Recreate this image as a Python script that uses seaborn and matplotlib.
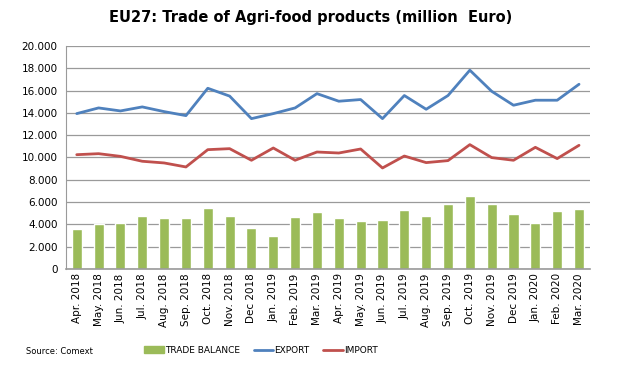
import matplotlib
matplotlib.use("Agg")
import matplotlib.pyplot as plt
import matplotlib.ticker as mticker
import pandas as pd
import seaborn as sns
from matplotlib.lines import Line2D
from matplotlib.patches import Patch

months = [
    "Apr. 2018", "May. 2018", "Jun. 2018", "Jul. 2018", "Aug. 2018", "Sep. 2018",
    "Oct. 2018", "Nov. 2018", "Dec 2018", "Jan. 2019", "Feb. 2019", "Mar. 2019",
    "Apr. 2019", "May. 2019", "Jun. 2019", "Jul. 2019", "Aug. 2019", "Sep. 2019",
    "Oct. 2019", "Nov. 2019", "Dec 2019", "Jan. 2020", "Feb. 2020", "Mar. 2020",
]
export = [13930, 14440, 14170, 14530, 14110, 13750, 16200, 15500, 13480, 13930, 14440, 15720,
          15040, 15190, 13480, 15550, 14320, 15550, 17820, 15930, 14680, 15130, 15130, 16560]
imports = [10250, 10340, 10100, 9660, 9510, 9150, 10700, 10790, 9750, 10850, 9750, 10490,
           10400, 10760, 9060, 10130, 9540, 9720, 11150, 9990, 9750, 10910, 9900, 11090]
trade_balance = [3590, 4010, 4100, 4780, 4600, 4600, 5500, 4780, 3680, 2990, 4690, 5110,
                 4600, 4330, 4420, 5260, 4720, 5800, 6550, 5860, 4900, 4160, 5200, 5350]

GREEN = "#9BBB59"
BLUE = "#4F81BD"
RED = "#C0504D"

df = pd.DataFrame({"month": months, "export": export, "import": imports,
                   "balance": trade_balance})

sns.set_style("white")
plt.rcParams["font.family"] = ["DejaVu Sans"]
plt.rcParams["text.color"] = "black"
plt.rcParams["xtick.color"] = "black"
plt.rcParams["ytick.color"] = "black"

fig = plt.figure(figsize=(6.21, 3.79), dpi=100)
ax = fig.add_axes([0.106, 0.290, 0.844, 0.589])

sns.barplot(data=df, x="month", y="balance", color=GREEN, width=0.46,
            saturation=1, ax=ax, zorder=2)
sns.lineplot(data=df, x="month", y="export", color=BLUE, linewidth=2.0,
             sort=False, ax=ax, zorder=3)
sns.lineplot(data=df, x="month", y="import", color=RED, linewidth=2.0,
             sort=False, ax=ax, zorder=3)

ax.set_ylim(0, 20000)
ax.set_xlim(-0.5, len(months) - 0.5)
ax.yaxis.set_major_locator(mticker.MultipleLocator(2000))
ax.yaxis.set_major_formatter(
    mticker.FuncFormatter(lambda v, _: f"{int(v):,}".replace(",", ".")))
ax.grid(axis="y", color="#9a9a9a", linewidth=0.9, zorder=0)
ax.set_axisbelow(True)

ax.set_xlabel("")
ax.set_ylabel("")
ax.tick_params(axis="x", which="major", length=0, labelsize=7.5, rotation=90, pad=3)
ax.tick_params(axis="y", length=0, labelsize=7.5, pad=6)
ax.xaxis.set_minor_locator(mticker.FixedLocator([i + 0.5 for i in range(-1, len(months))]))
ax.tick_params(axis="x", which="minor", length=3, color="#888888", direction="out")

for side in ["top", "right"]:
    ax.spines[side].set_visible(False)
ax.spines["left"].set_color("#9a9a9a")
ax.spines["bottom"].set_color("#9a9a9a")
ax.spines["bottom"].set_linewidth(1.2)

fig.text(0.5, 0.953, "EU27: Trade of Agri-food products (million  Euro)",
         ha="center", va="center", fontsize=10.5, fontweight="bold")
fig.text(0.042, 0.073, "Source: Comext", ha="left", va="center", fontsize=6)

handles = [
    Patch(facecolor=GREEN, edgecolor=GREEN),
    Line2D([0], [0], color=BLUE, linewidth=2.0),
    Line2D([0], [0], color=RED, linewidth=2.0),
]
fig.legend(handles, ["TRADE BALANCE", "EXPORT", "IMPORT"], loc="center",
           bbox_to_anchor=(0.42, 0.075), ncol=3, frameon=False, fontsize=6.5,
           handlelength=2.2, handleheight=0.8, handletextpad=0.1, columnspacing=1.5)

fig.savefig("out.png", dpi=100)
